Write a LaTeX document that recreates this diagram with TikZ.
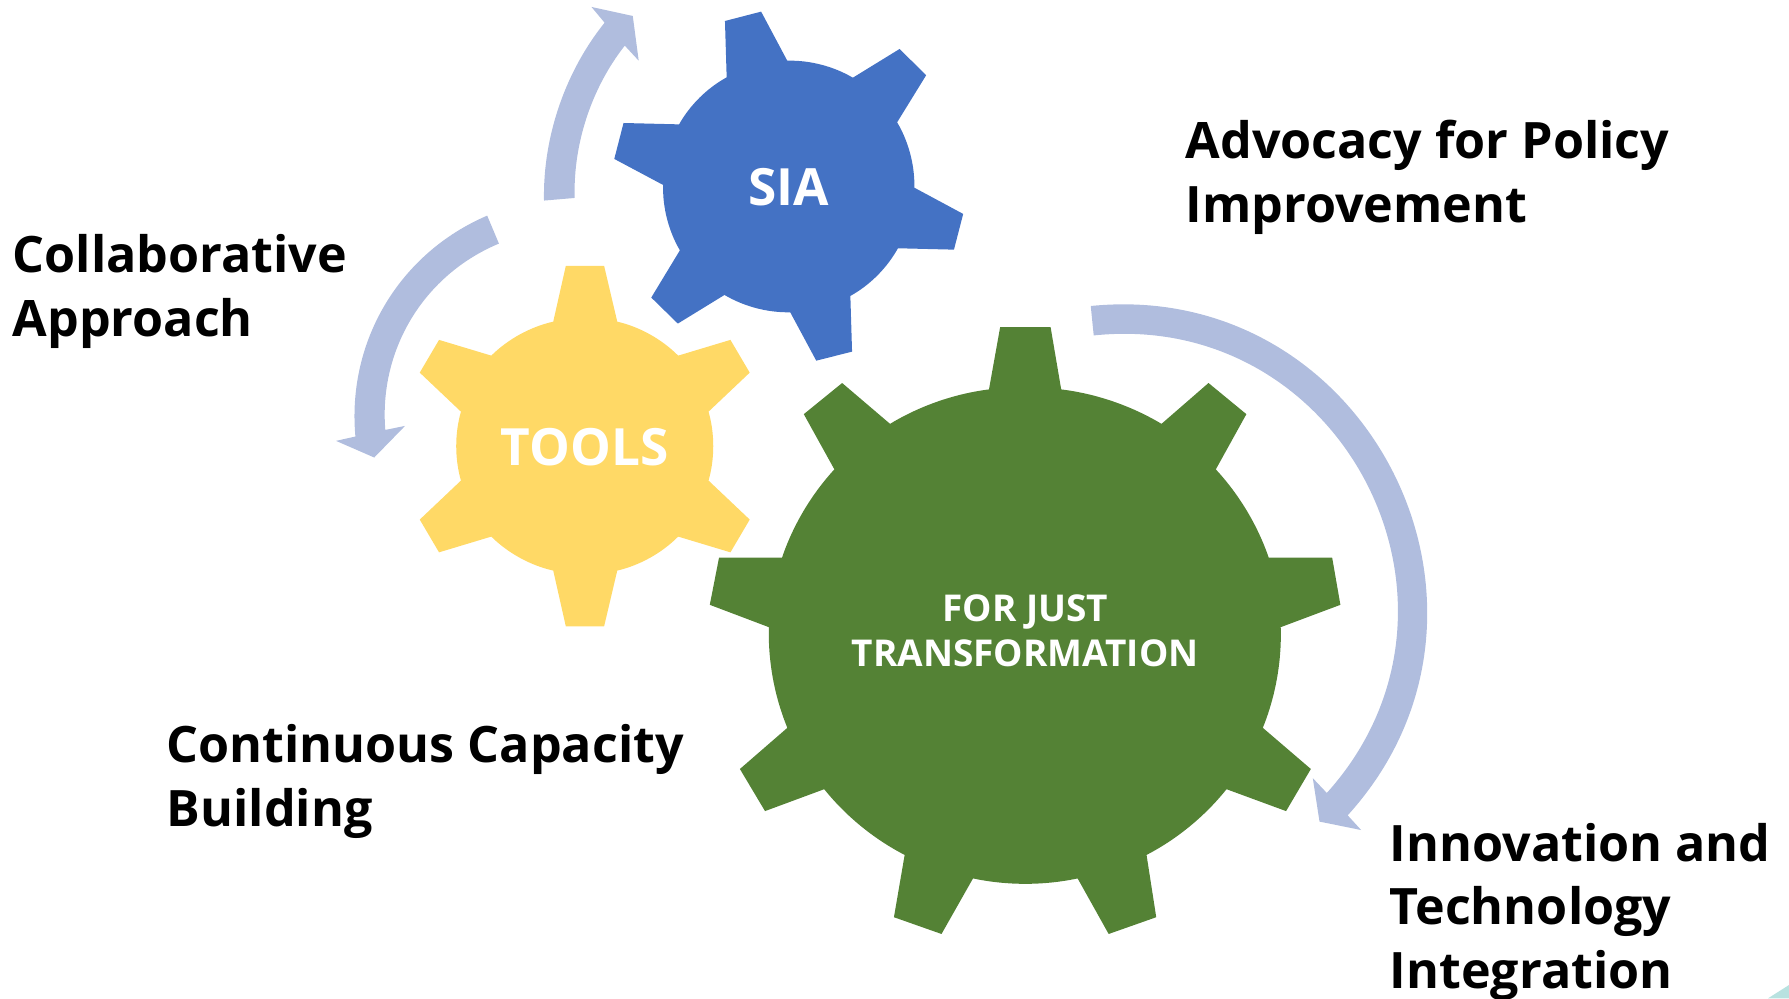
\documentclass[tikz,border=0pt]{standalone}
\usepackage{fontspec}
\setmainfont{Open Sans}
\usepackage{xcolor}
\usetikzlibrary{positioning}

\definecolor{gearblue}{HTML}{4472C4}
\definecolor{gearyellow}{HTML}{FFD966}
\definecolor{geargreen}{HTML}{548235}
\definecolor{swooshblue}{HTML}{B0BDDE}
\definecolor{cornerteal}{HTML}{B8E2E0}

\tikzset{
    rim/.style={bend left=#1, looseness=.85},
    rim/.default=16,
    swoosh/.style={fill=swooshblue},
    caption/.style={anchor=north west, inner sep=0pt, align=left, font=\fontsize{44}{56}\selectfont\bfseries},
    gearlabel/.style={text=white, inner sep=0pt, align=center, font=\bfseries}
}

\begin{document}
\begin{tikzpicture}[x=1pt,y=-1pt]
        \useasboundingbox (0,0) rectangle (1568,875);

        % sliver in the lower right corner
        \fill[cornerteal] (1549.6,875)--(1568,863.3)--(1568,875)--cycle;

        % the three gears, clockwise from the top tooth
        \fill[gearblue] (636.9,67.8)--(635.4,18.4)--(667.1,10.2)--(690,53.2) to[rim] (747.5,68.1)
            --(788.5,42.9)--(811.7,66)--(786.3,107.2) to[rim] (801.4,164.5)
            --(844.2,187.5)--(836.1,218.8)--(787,217.6) to[rim] (745.3,259.4)
            --(746.8,308.2)--(715.4,316.1)--(692.6,273.7) to[rim] (635,258.5)
            --(594.1,283.6)--(570.8,260.8)--(595.9,219.4) to[rim] (581.2,162.1)
            --(538.4,139.3)--(546.5,107.8)--(595.2,109) to[rim] (636.9,67.8)--cycle;
        \fill[gearyellow] (484.9,281.9)--(495.9,233.1)--(529.5,233.1)--(541,281.9) to[rim] (594.4,311.7)
            --(640.2,297.9)--(657.1,326.6)--(621,360.8) to[rim] (621,421.2)
            --(657.1,455.4)--(640.2,484.1)--(594.4,470.3) to[rim] (541,500.1)
            --(529.5,548.9)--(495.9,548.9)--(484.9,500.1) to[rim] (430.6,470.3)
            --(384.8,484.1)--(367.9,455.4)--(404,421.2) to[rim] (404,360.8)
            --(367.9,326.6)--(384.8,297.9)--(430.6,311.7) to[rim] (484.9,281.9)--cycle;
        \fill[geargreen] (866.8,341.3)--(876.6,286.7)--(920.8,286.7)--(930.1,341.3) to[rim=12] (1018,371.5)
            --(1059.2,335.7)--(1092.4,363)--(1065.6,411.4) to[rim=12] (1112,488.8)
            --(1167.6,488.8)--(1174.8,530.1)--(1122.5,549.7) to[rim=12] (1106.8,637.9)
            --(1148.9,674)--(1127.2,710.9)--(1075,691.7) to[rim=12] (1004.9,749.3)
            --(1013.4,803.9)--(971.7,818.6)--(944.5,769.9) to[rim=12] (852.8,769.9)
            --(825.2,818.6)--(783.5,803.9)--(792.9,749.3) to[rim=12] (722.4,691.7)
            --(670.5,710.9)--(648.5,674)--(690.1,637.9) to[rim=12] (673.9,549.7)
            --(622.1,530.1)--(630.2,488.8)--(685.4,488.8) to[rim=12] (731.3,411.4)
            --(704.5,363)--(738.1,335.7)--(780.1,371.5) to[rim=12] (866.8,341.3)--cycle;

        % the three curved arrows
        \fill[swoosh] (476.8,175.8) to[bend left=20,looseness=.86] (529.9,19.9)--(518.4,6.1)--(554.6,14)--(559.8,53.2)
            --(547.6,40) to[bend right=20,looseness=.86] (503.7,173.5)--cycle;
        \fill[swoosh] (427,189) to[bend right=36,looseness=.95] (311.5,382.6)--(294.5,386.4)--(328,401)--(355,373.3)
            --(337.7,376.8) to[bend left=36,looseness=.95] (437.3,213.5)--cycle;
        \fill[swoosh] (956,268.2) to[bend left=69,looseness=1.25] (1181.2,714.6)--(1193,727.5)--(1156.5,720.1)--(1150.6,682)
            --(1162.9,695) to[bend right=69,looseness=1.25] (958.6,294)--cycle;

        \node[gearlabel, font=\fontsize{45}{50}\selectfont\bfseries] (sia) at (691,164) {SIA};
        \node[gearlabel, font=\fontsize{45}{50}\selectfont\bfseries] (tools) at (512.5,392) {TOOLS};
        \node[gearlabel, font=\fontsize{32.4}{39}\selectfont\bfseries] (just) at (898.5,553) {FOR JUST\\TRANSFORMATION};

        \node[caption] (advocacy) at (1039,105) {Advocacy for Policy\\Improvement};
        \node[caption] (collaborative) at (11,205) {Collaborative\\Approach};
        \node[caption] (capacity) at (146,635) {Continuous Capacity\\Building};
        \node[caption] (innovation) at (1218,721) {Innovation and\\Technology\\Integration};
    \end{tikzpicture}
\end{document}
